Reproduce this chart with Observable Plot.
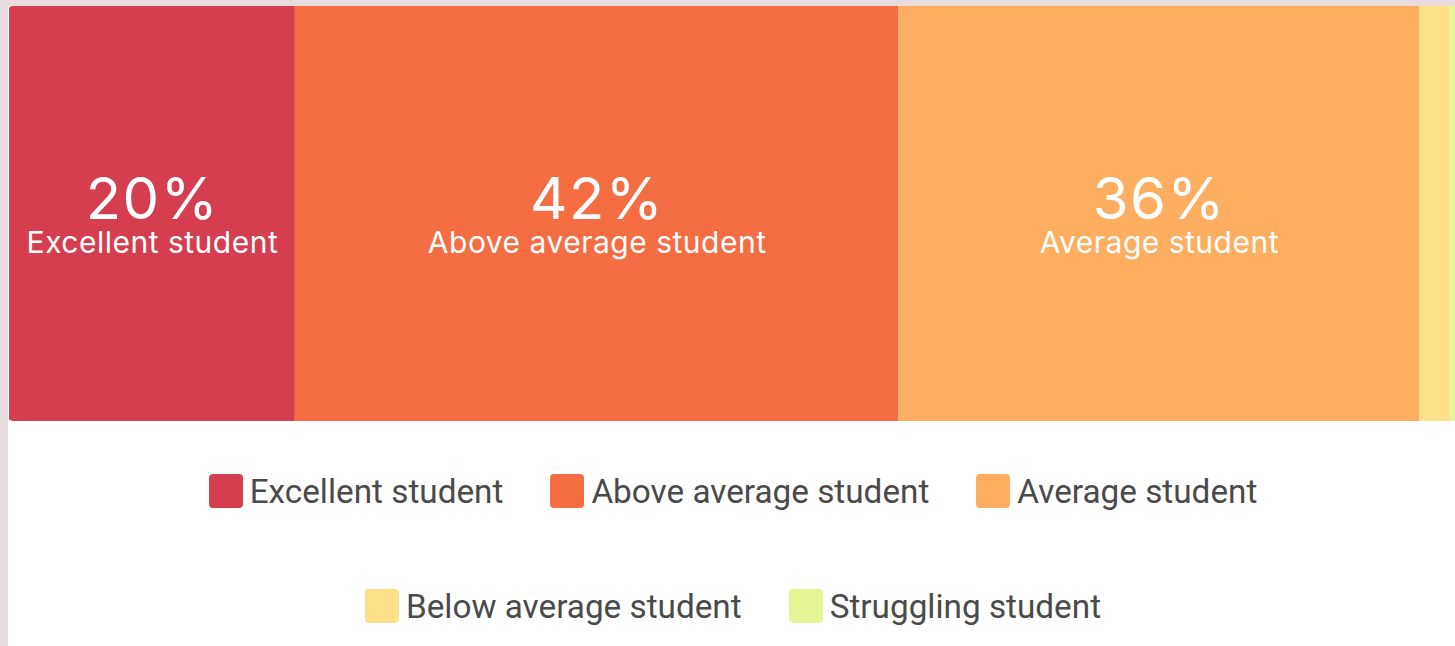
<!DOCTYPE html>
<html>
<head>
<meta charset="utf-8">
<script src="https://cdn.jsdelivr.net/npm/d3@7"></script>
<script src="https://cdn.jsdelivr.net/npm/@observablehq/plot@0.6"></script>
<style>
  html, body { margin: 0; padding: 0; }
  body { background: #e8dcdf; width: 1455px; height: 646px; overflow: hidden; position: relative; }
  #panel { position: absolute; left: 8px; top: 6px; width: 1460px; height: 660px; background: #ffffff; }
  #bar { width: 1452px; height: 415px; border-radius: 5px 0 0 5px; overflow: hidden; }
  #legend { position: absolute; left: 175px; top: 468px; width: 1100px; display: flex; flex-wrap: wrap; justify-content: center; column-gap: 47px; row-gap: 81px; }
  .item { display: flex; align-items: center; height: 34px; font-family: Roboto, sans-serif; font-size: 33.3px; color: #4a4a4a; white-space: nowrap; }
  .sw { width: 34px; height: 34px; border-radius: 4px; margin-right: 7px; flex: none; }
</style>
</head>
<body>
<div id="panel">
  <div id="bar"></div>
  <div id="legend"></div>
</div>
<script>
const categories = ["Excellent student", "Above average student", "Average student", "Below average student", "Struggling student"];
const shares = [19.7, 41.6, 35.9, 2.1, 0.7];
const colors = ["#d53e4f", "#f46d43", "#fdae61", "#fee08b", "#e6f598"];

const data = categories.map((c, i) => ({category: c, share: shares[i]}));

const chart = Plot.plot({
  width: 1452,
  height: 415,
  marginTop: 0,
  marginBottom: 0,
  marginLeft: 1,
  marginRight: 0,
  x: {domain: [0, 100], axis: null},
  color: {domain: categories, range: colors},
  marks: [
    Plot.barX(data, Plot.stackX({x: "share", fill: "category", order: null})),
    Plot.text(data, Plot.stackX({
      x: "share", order: null,
      filter: d => d.share > 5,
      text: d => `${Math.round(d.share)}%`,
      fill: "white", fontSize: 58, fontFamily: "Inter, sans-serif",
      lineAnchor: "bottom", dy: 5
    })),
    Plot.text(data, Plot.stackX({
      x: "share", order: null,
      filter: d => d.share > 5,
      text: "category",
      fill: "white", fontSize: 30, fontFamily: "Inter, sans-serif",
      lineAnchor: "bottom", dy: 39
    }))
  ]
});
const textGroups = chart.querySelectorAll('g[aria-label="text"]');
if (textGroups[0]) textGroups[0].setAttribute("letter-spacing", "1.5");
if (textGroups[1]) textGroups[1].setAttribute("letter-spacing", "0.5");
document.getElementById("bar").appendChild(chart);

const legend = document.getElementById("legend");
categories.forEach((c, i) => {
  const item = document.createElement("div");
  item.className = "item";
  const sw = document.createElement("span");
  sw.className = "sw";
  sw.style.background = colors[i];
  const label = document.createElement("span");
  label.textContent = c;
  item.appendChild(sw);
  item.appendChild(label);
  legend.appendChild(item);
});
</script>
</body>
</html>
